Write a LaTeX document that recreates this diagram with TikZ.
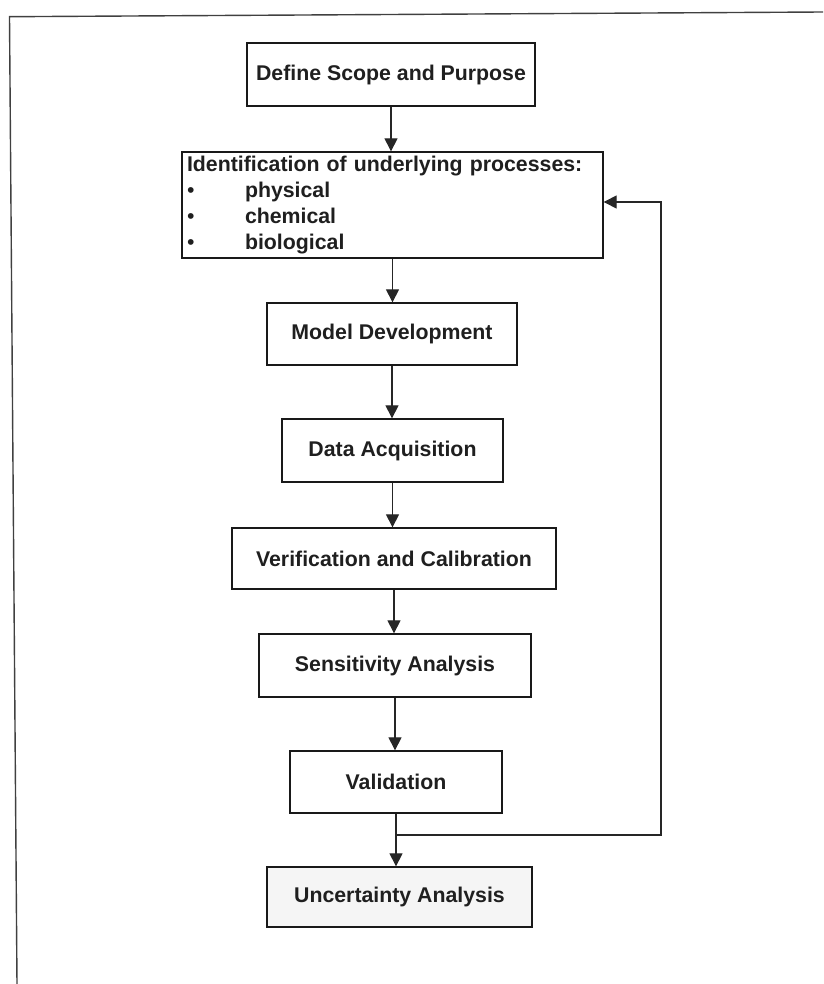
\documentclass[tikz,border=0pt]{standalone}
\usepackage{fontspec}
\setmainfont{Liberation Sans}
\usetikzlibrary{arrows.meta}
\begin{document}
\begin{tikzpicture}[x=1pt,y=-1pt,
  stepbox/.style={draw=black!90, line width=1.3pt, fill=white, inner sep=0pt,
    font=\fontsize{21.3}{25.7}\selectfont\bfseries, text=black!88},
  flow/.style={line width=1.1pt, draw=black!85, -{Triangle[length=13pt,width=13pt]}},
  bullet/.style={}]
\useasboundingbox (0,0) rectangle (823,984);
% page frame (top and left edges)
\draw[line width=1.4pt, black!75] (823,12) -- (9.5,16.7) -- (17,984);

% process steps
\node[stepbox, minimum width=288pt, minimum height=63pt] (scope) at (391,74.5) {Define Scope and Purpose};
\node[stepbox, minimum width=421pt, minimum height=106pt, text width=411pt, align=left] (ident) at (392.5,205)
  {Identification of underlying processes:\\
   \makebox[58pt][l]{\mdseries\textbullet}physical\\
   \makebox[58pt][l]{\mdseries\textbullet}chemical\\
   \makebox[58pt][l]{\mdseries\textbullet}biological};
\node[stepbox, minimum width=250pt, minimum height=62pt] (model) at (392,334) {Model Development};
\node[stepbox, minimum width=221pt, minimum height=63pt] (data) at (392.5,450.5) {Data Acquisition};
\node[stepbox, minimum width=324pt, minimum height=61pt] (verif) at (394,558.5) {Verification and Calibration};
\node[stepbox, minimum width=272pt, minimum height=63pt] (sens) at (395,665.5) {Sensitivity Analysis};
\node[stepbox, minimum width=212pt, minimum height=62pt] (valid) at (396,782) {Validation};
\node[stepbox, fill=black!4, minimum width=265pt, minimum height=60pt] (uncert) at (399.5,897) {Uncertainty Analysis};

% main flow
\draw[flow] (scope.south) -- (scope.south |- ident.north);
\draw[flow] (ident.south) -- (ident.south |- model.north);
\draw[flow] (model.south) -- (model.south |- data.north);
\draw[flow] (data.south) -- (data.south |- verif.north);
\draw[flow] (verif.south) -- (verif.south |- sens.north);
\draw[flow] (sens.south) -- (sens.south |- valid.north);
\draw[flow] (valid.south) -- (valid.south |- uncert.north);

% feedback loop back to process identification
\coordinate (split) at (396,835);
\coordinate (back) at (661,202);
\draw[flow] (split) -- (split -| back) -- (back) -- (back -| ident.east);
\end{tikzpicture}
\end{document}
